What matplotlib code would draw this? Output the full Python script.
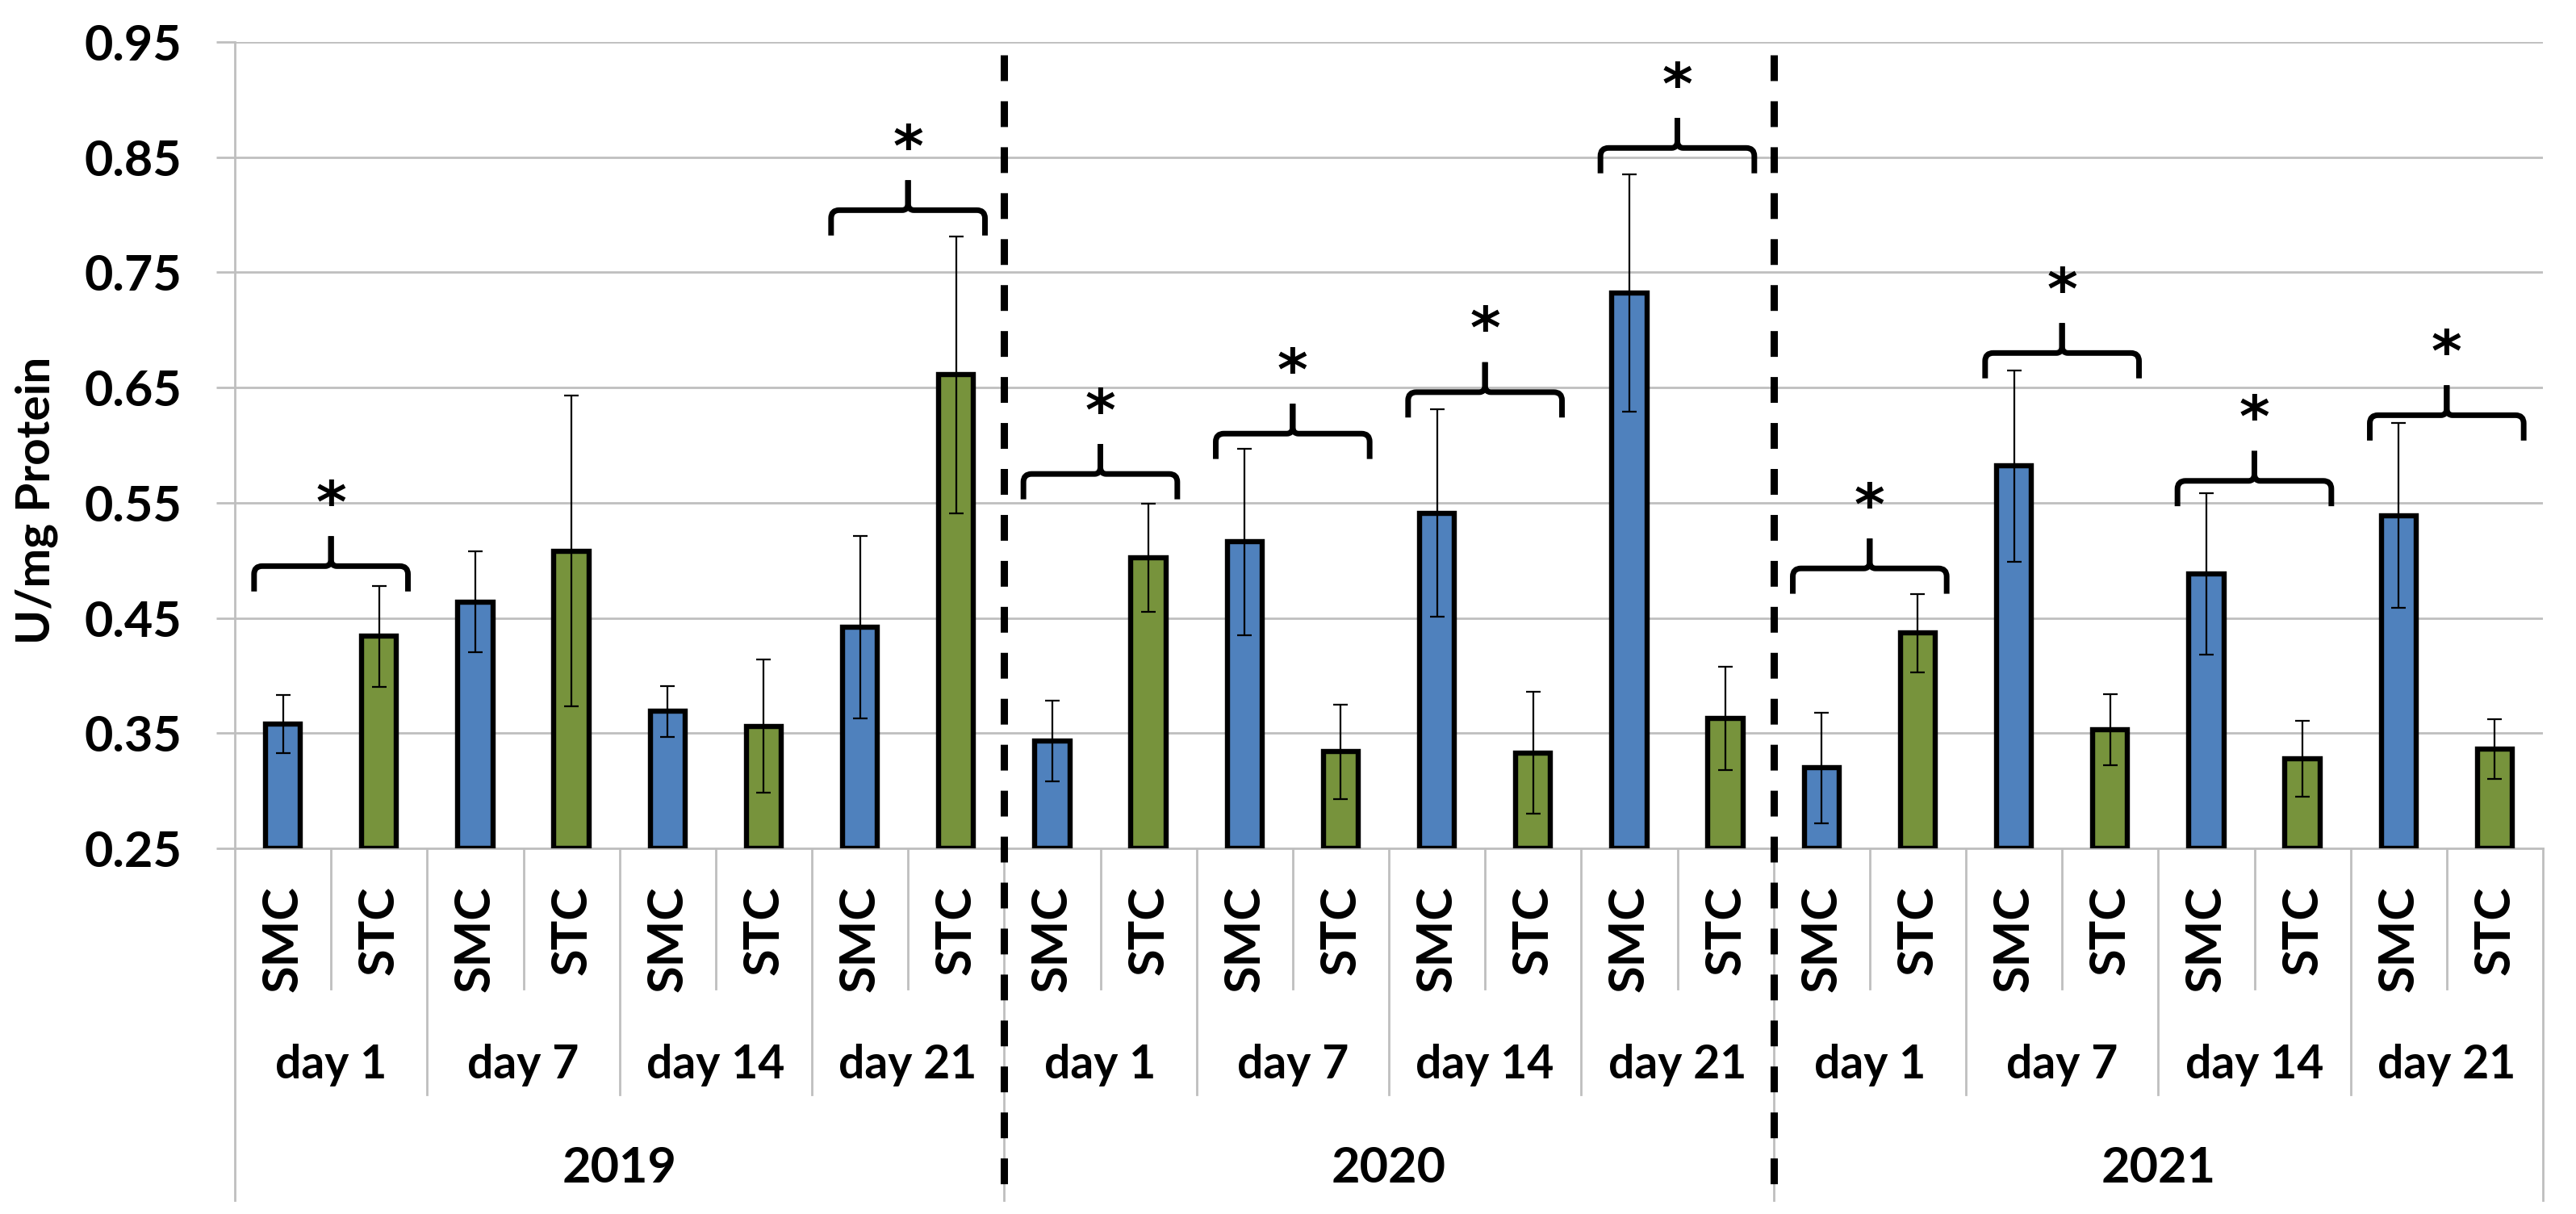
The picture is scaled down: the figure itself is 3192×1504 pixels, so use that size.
import matplotlib
matplotlib.use('Agg')
import matplotlib.pyplot as plt
from matplotlib.path import Path
from matplotlib.patches import PathPatch
import numpy as np

plt.rcParams['font.family'] = ['Lato', 'DejaVu Sans']
plt.rcParams['font.weight'] = 'bold'

# ---------------- data ----------------
years = ['2019', '2020', '2021']
days = ['day 1', 'day 7', 'day 14', 'day 21']
groups = ['SMC', 'STC']

smc_mean = [0.358, 0.464, 0.369, 0.442, 0.343, 0.516, 0.541, 0.732, 0.320, 0.582, 0.488, 0.539]
smc_err = [0.025, 0.044, 0.022, 0.079, 0.035, 0.081, 0.090, 0.103, 0.048, 0.083, 0.070, 0.080]
stc_mean = [0.434, 0.508, 0.356, 0.661, 0.502, 0.334, 0.333, 0.363, 0.437, 0.353, 0.328, 0.336]
stc_err = [0.044, 0.135, 0.058, 0.120, 0.047, 0.041, 0.053, 0.045, 0.034, 0.031, 0.033, 0.026]

# significance brace level for each year/day pair (None = not significant)
sig_brace_level = [0.495, None, None, 0.804, 0.575, 0.610, 0.646, 0.858, 0.493, 0.680, 0.569, 0.626]

yticks = [0.25, 0.35, 0.45, 0.55, 0.65, 0.75, 0.85, 0.95]
ylabel = 'U/mg Protein'

# ---------------- style ----------------
BLUE = '#4F81BD'
GREEN = '#77933C'
GRID = '#BFBFBF'
W, H = 3192, 1504
fig = plt.figure(figsize=(W / 100, H / 100), dpi=100)

ax_left, ax_right, ax_top, ax_bot = 291, 3151, 52, 1051
ax = fig.add_axes([ax_left / W, (H - ax_bot) / H, (ax_right - ax_left) / W, (ax_bot - ax_top) / H])

def py(px):
    """pixel row -> axes y fraction"""
    return (ax_bot - px) / (ax_bot - ax_top)

n_pairs = len(smc_mean)
x_smc = 2 * np.arange(n_pairs)
x_stc = x_smc + 1
base = yticks[0]

bar_w = 0.365
ax.bar(x_smc, np.array(smc_mean) - base, bottom=base, width=bar_w, color=BLUE,
       edgecolor='black', linewidth=4.6, zorder=3)
ax.bar(x_stc, np.array(stc_mean) - base, bottom=base, width=bar_w, color=GREEN,
       edgecolor='black', linewidth=4.6, zorder=3)
ax.errorbar(x_smc, smc_mean, yerr=smc_err, fmt='none', ecolor='black', elinewidth=1.6,
            capsize=6.5, capthick=1.6, zorder=4)
ax.errorbar(x_stc, stc_mean, yerr=stc_err, fmt='none', ecolor='black', elinewidth=1.6,
            capsize=6.5, capthick=1.6, zorder=4)

ax.set_xlim(-0.5, 2 * n_pairs - 0.5)
ax.set_ylim(yticks[0], yticks[-1])
ax.set_yticks(yticks)
ax.set_yticklabels(['%.2f' % v for v in yticks])
ax.yaxis.grid(True, color=GRID, linewidth=2, zorder=0)
ax.set_axisbelow(True)
ax.set_xticks([])
for s in ['top', 'right']:
    ax.spines[s].set_visible(False)
for s in ['left', 'bottom']:
    ax.spines[s].set_color(GRID)
    ax.spines[s].set_linewidth(2)
ax.tick_params(axis='y', length=16.5, width=2, color=GRID, pad=31, labelsize=44)

# ---------------- multi-level category axis ----------------
xt = ax.get_xaxis_transform()
y_minor, y_day, y_year = py(1225), py(1356), py(1487)
n_bars = 2 * n_pairs
for k in range(n_bars + 1):
    if k % 8 == 0:
        yend = y_year
    elif k % 2 == 0:
        yend = y_day
    else:
        yend = y_minor
    ax.plot([k - 0.5, k - 0.5], [0, yend], transform=xt, clip_on=False,
            color=GRID, lw=2, zorder=1)

for i in range(n_bars):
    ax.text(i, py(1097), groups[i % 2], transform=xt, rotation=90, ha='center', va='top',
            fontsize=44, fontweight='bold')
for j in range(n_pairs):
    ax.text(2 * j + 0.5, py(1336), days[j % 4], transform=xt, ha='center', va='baseline',
            fontsize=41, fontweight='bold')
for yi, yr in enumerate(years):
    ax.text(8 * yi + 3.5, py(1465), yr, transform=xt, ha='center', va='baseline',
            fontsize=44, fontweight='bold')

# dashed year separators
for yi in range(1, len(years)):
    xb = 8 * yi - 0.5
    ax.plot([xb, xb], [py(68), py(1485)], transform=xt, clip_on=False, color='black',
            lw=6.5, linestyle=(0, (23 / 6.5, 18 / 6.5)), solid_capstyle='butt',
            dash_capstyle='butt', zorder=6)

fig.text(45 / W, (H - 620) / H, ylabel, rotation=90, ha='center', va='center',
         fontsize=42, fontweight='bold')

# ---------------- significance braces ----------------
def brace(x0, x1, y, d_end=0.022, d_tip=0.026, rx=0.085, ry=0.007, fx=0.06, fy=0.006):
    m = (x0 + x1) / 2
    for s, xe in ((1, x0), (-1, x1)):
        verts = [(xe, y - d_end), (xe, y - ry), (xe, y), (xe + s * rx, y),
                 (m - s * fx, y), (m, y), (m, y + fy), (m, y + d_tip)]
        codes = [Path.MOVETO, Path.LINETO, Path.CURVE3, Path.CURVE3,
                 Path.LINETO, Path.CURVE3, Path.CURVE3, Path.LINETO]
        ax.add_patch(PathPatch(Path(verts, codes), fill=False, edgecolor='black', lw=5.0,
                               capstyle='butt', joinstyle='round', zorder=5, clip_on=False))
    return m

star_fs = 52
for j, lvl in enumerate(sig_brace_level):
    if lvl is None:
        continue
    m = brace(x_smc[j] - 0.3, x_stc[j] + 0.3, lvl)
    ax.annotate('*', xy=(m, lvl + 0.068), xytext=(0, -0.59 * star_fs), textcoords='offset points',
                ha='center', va='baseline', fontsize=star_fs, fontfamily='DejaVu Sans',
                fontweight='bold', zorder=6, annotation_clip=False)

fig.savefig('out.png', dpi=100, facecolor='white')
